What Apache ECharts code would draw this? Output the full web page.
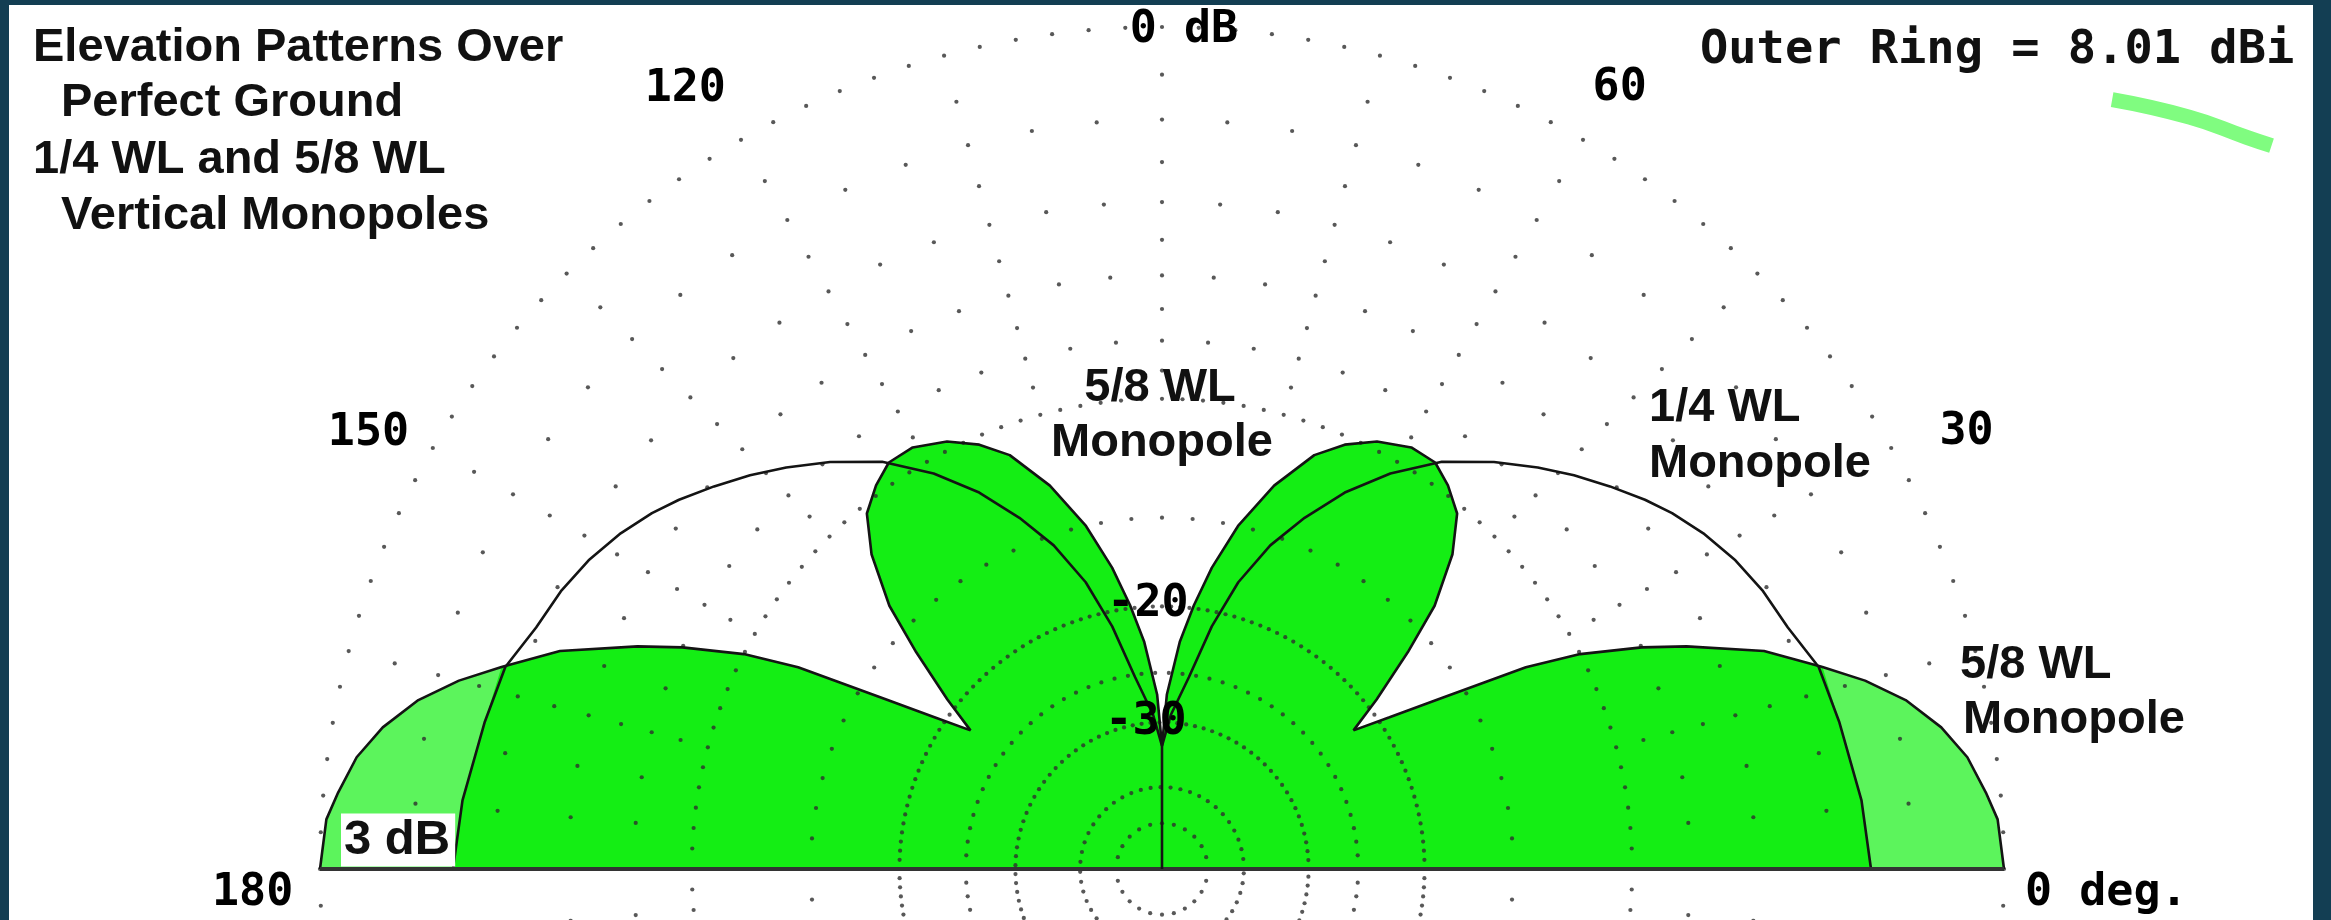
<!DOCTYPE html>
<html><head><meta charset="utf-8">
<script src="https://cdn.jsdelivr.net/npm/echarts@6/dist/echarts.min.js"></script>
<style>html,body{margin:0;padding:0;background:#133e53}#c{width:2331px;height:920px}</style>
</head><body><div id="c"></div>
<script>
// ---- Data (dB relative to outer ring = 8.01 dBi, ARRL log scale) ----
// 5/8 WL monopole, elevation angle (deg) and relative gain (dB)
const elev58 = [0, 3.4, 5.3, 7.9, 10.3, 12.8, 15.0, 17.0, 19.9, 23.0, 24.8, 27.2, 29.0, 31.5, 33.7, 35.9, 38.3, 41.4, 44.0, 47.3, 50.3, 53.3, 56.1, 59.4, 63.3, 66.7, 69.8, 73.7, 77.5, 80.6, 83.1, 85.5, 88.4, 90];
const db58   = [0, -0.1, -0.3, -0.6, -1.05, -1.7, -2.5, -3.4, -4.7, -6.7, -8.0, -10.0, -12.1, -16.3, -19.3, -21.8, -19.3, -16.2, -13.7, -11.6, -10.3, -9.7, -9.3, -9.3, -9.7, -10.3, -11.1, -12.8, -15.0, -17.4, -19.8, -22.4, -27.0, -33];
// 1/4 WL monopole
const elev14 = [0, 5.6, 12.2, 17.1, 21.1, 24.9, 28.3, 31.8, 34.9, 37.4, 40.5, 43.7, 46.9, 50.8, 55.5, 60.0, 64.1, 67.9, 71.5, 75.1, 78.4, 82.0, 86.7, 90];
const db14   = [-2.95, -3.1, -3.34, -3.49, -3.9, -4.13, -4.41, -4.79, -5.2, -5.59, -6.13, -6.7, -7.31, -8.1, -9.15, -10.5, -12.0, -13.7, -15.5, -17.9, -21.0, -25.2, -29.1, -33];
// grid rings (dB) and angle tick labels
const ringDb = [0, -1, -2, -3, -4, -5, -6, -7, -8, -9, -10, -15, -20, -25, -30, -40, -50];
const angleTicks = [0, 30, 60, 120, 150, 180];
const angleTickLabels = ['0 deg.', '30', '60', '120', '150', '180'];
const ringLabelDb = [0, -20, -30];
const ringLabelText = ['0 dB', '-20', '-30'];
// highlighter swoosh near the legend (radius in outer-ring units, angle in deg)
const swooshR = [1.452, 1.512, 1.554, 1.573];
const swooshA = [39.0, 36.2, 34.0, 33.1];

// ---- Styles / layout ----
const OUTER_PX = 842, RMAX = 1.6;
const ringStep = {0: 2.5, '-10': 2.5, '-15': 5, '-20': 2, '-25': 4, '-30': 3.5, '-40': 7, '-50': 15};
const angleLabelOffset = [[35, 24], [17, 18], [3, 7], [-22, 8], [-6, 19], [0, 24]];
const ringLabelOffset = [[22, 3], [-14, -2], [-16, 0]];
const DARK = '#14ee14', LIGHT = '#5cf45c', INK = '#141414';
const MONO = '"DejaVu Sans Mono", "Liberation Mono", monospace';
const SANS = '"Liberation Sans", Arial, sans-serif';

const arrl = db => Math.pow(0.89, -db / 2);
function mirrored(el, db) {
  const pts = [];
  for (let i = 0; i < el.length; i++) pts.push([arrl(db[i]), el[i]]);
  for (let i = el.length - 2; i >= 0; i--) pts.push([arrl(db[i]), 180 - el[i]]);
  return pts;
}
const pts58 = mirrored(elev58, db58);
const pts14 = mirrored(elev14, db14);
// inner (denser) highlight: 1/4 WL below the crossing, 5/8 WL above
const innerEl = [], innerDb = [];
elev14.forEach((e, i) => { if (e < 17) { innerEl.push(e); innerDb.push(db14[i]); } });
elev58.forEach((e, i) => { if (e >= 17) { innerEl.push(e); innerDb.push(db58[i]); } });
const ptsInner = mirrored(innerEl, innerDb);

const dots = [];
ringDb.forEach(d => {
  const step = ringStep[d] !== undefined ? ringStep[d] : (Math.abs(d) % 2 === 1 ? 15 : 5);
  for (let a = 0; a < 360 - 1e-6; a += step) dots.push([arrl(d), a]);
});

const labelStyle = { show: true, position: 'inside', formatter: p => p.name, color: '#000', opacity: 1,
  textBorderWidth: 0, fontFamily: MONO, fontWeight: 'bold', fontSize: 45 };
const angleLabelData = angleTicks.map((a, i) => ({
  name: angleTickLabels[i], value: [1.08, a], label: { offset: angleLabelOffset[i] }
}));
const ringLabelData = ringLabelDb.map((d, i) => ({
  name: ringLabelText[i], value: [arrl(d), 90], label: { offset: ringLabelOffset[i] }
}));

function txt(text, x, y, opts) {
  return {
    type: 'text', x: x, y: y, z: 100,
    style: Object.assign({ text: text, fill: '#111', font: 'bold 47px ' + SANS, align: 'left', verticalAlign: 'middle' }, opts || {})
  };
}

const chart = echarts.init(document.getElementById('c'), null, { width: 2331, height: 920 });
chart.setOption({
  backgroundColor: '#133e53',
  animation: false,
  polar: { center: [1162, 869], radius: OUTER_PX * RMAX },
  angleAxis: { type: 'value', min: 0, max: 360, startAngle: 0, clockwise: false,
    axisLine: { show: false }, axisTick: { show: false }, axisLabel: { show: false }, splitLine: { show: false } },
  radiusAxis: { type: 'value', min: 0, max: RMAX,
    axisLine: { show: false }, axisTick: { show: false }, axisLabel: { show: false }, splitLine: { show: false } },
  graphic: [
    { type: 'rect', z: -100, shape: { x: 9, y: 5, width: 2304, height: 930 }, style: { fill: '#ffffff' }, silent: true },
    txt('Elevation Patterns Over', 33, 48),
    txt('Perfect Ground', 61, 103),
    txt('1/4 WL and 5/8 WL', 33, 160),
    txt('Vertical Monopoles', 61, 216),
    txt('5/8 WL', 1160, 388, { align: 'center' }),
    txt('Monopole', 1162, 443, { align: 'center' }),
    txt('1/4 WL', 1649, 408),
    txt('Monopole', 1649, 464),
    txt('5/8 WL', 1960, 665),
    txt('Monopole', 1963, 720),
    txt('3 dB', 341, 840, { font: 'bold 49px ' + SANS, backgroundColor: '#ffffff', padding: [3, 5, 1, 3] }),
    txt('Outer Ring = 8.01 dBi', 1700, 51, { font: 'bold 47px ' + MONO })
  ],
  series: [
    { name: '5/8 WL light', type: 'line', coordinateSystem: 'polar', data: pts58, symbol: 'none', z: 2,
      lineStyle: { width: 0 }, areaStyle: { color: LIGHT, opacity: 1 } },
    { name: 'inner', type: 'line', coordinateSystem: 'polar', data: ptsInner, symbol: 'none', z: 3,
      lineStyle: { width: 0 }, areaStyle: { color: DARK, opacity: 1 } },
    { name: 'swoosh', type: 'line', coordinateSystem: 'polar', symbol: 'none', z: 3, smooth: 0.5,
      data: swooshR.map((r, i) => [r, swooshA[i]]), lineStyle: { width: 15, color: '#80fc80', cap: 'butt' } },
    { name: 'grid', type: 'scatter', coordinateSystem: 'polar', data: dots, symbol: 'circle', symbolSize: 4.2,
      itemStyle: { color: '#2e2e2e' }, z: 4, silent: true },
    { name: '1/4 WL', type: 'line', coordinateSystem: 'polar', data: pts14, symbol: 'none', z: 5,
      lineStyle: { width: 2.6, color: INK } },
    { name: '5/8 WL', type: 'line', coordinateSystem: 'polar', data: pts58, symbol: 'none', z: 5,
      lineStyle: { width: 2.6, color: INK } },
    { name: 'baseline', type: 'line', coordinateSystem: 'polar', symbol: 'none', z: 5,
      data: [[arrl(db58[0]), 0], [0, 0], [arrl(db58[0]), 180]], lineStyle: { width: 4, color: '#333' } },
    { name: 'zenith', type: 'line', coordinateSystem: 'polar', symbol: 'none', z: 5,
      data: [[0, 90], [arrl(db58[db58.length - 1]), 90]], lineStyle: { width: 2.6, color: INK } },
    { name: 'angle labels', type: 'scatter', coordinateSystem: 'polar', data: angleLabelData, symbolSize: 1, z: 6,
      itemStyle: { color: 'rgba(0,0,0,0)' }, label: labelStyle },
    { name: 'ring labels', type: 'scatter', coordinateSystem: 'polar', data: ringLabelData, symbolSize: 1, z: 6,
      itemStyle: { color: 'rgba(0,0,0,0)' }, label: labelStyle }
  ]
});
</script></body></html>
